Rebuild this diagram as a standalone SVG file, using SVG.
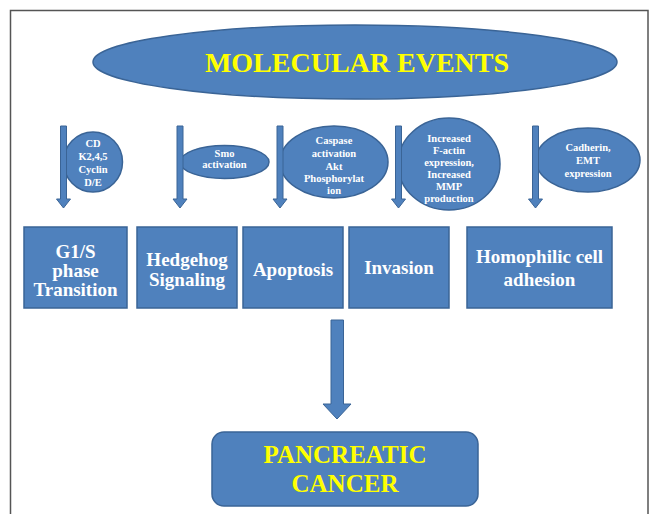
<svg xmlns="http://www.w3.org/2000/svg" width="657" height="514" viewBox="0 0 657 514">
<style>
.shape{fill:#4F81BD;stroke:#3A6496;stroke-width:1.5}
.arr{fill:#4F81BD;stroke:#3A6496;stroke-width:1}
.y{fill:#FFFF00;font-family:"Liberation Serif","Times New Roman",serif;font-weight:bold;text-anchor:middle}
.w{fill:#FFFFFF;font-family:"Liberation Serif","Times New Roman",serif;font-weight:bold;text-anchor:middle}
.s{font-size:10.5px}
.r{font-size:19px}
</style>
<rect width="657" height="514" fill="#FFFFFF"/>
<path d="M10.5,514 V10.5 H648 V514" fill="none" stroke="#555" stroke-width="1.5"/>

<g id="molecular-events">
<ellipse class="shape" cx="355" cy="62" rx="262" ry="37"/>
<text class="y" x="357" y="72" font-size="28">MOLECULAR EVENTS</text>
</g>

<g id="e-cdk">
<ellipse class="shape" cx="93" cy="162" rx="29.5" ry="30"/>
<text class="w s" x="93" y="147">CD</text>
<text class="w s" x="93" y="160">K2,4,5</text>
<text class="w s" x="93" y="173">Cyclin</text>
<text class="w s" x="93" y="186">D/E</text>
</g>
<g id="e-smo">
<ellipse class="shape" cx="224.5" cy="162" rx="44.5" ry="16.5"/>
<text class="w s" x="224.5" y="157">Smo</text>
<text class="w s" x="224.5" y="168">activation</text>
</g>
<g id="e-caspase">
<ellipse class="shape" cx="334" cy="162" rx="54" ry="36"/>
<text class="w s" x="334" y="144">Caspase</text>
<text class="w s" x="334" y="157">activation</text>
<text class="w s" x="334" y="170">Akt</text>
<text class="w s" x="334" y="182">Phosphorylat</text>
<text class="w s" x="334" y="194">ion</text>
</g>
<g id="e-factin">
<ellipse class="shape" cx="449" cy="164" rx="51" ry="46"/>
<text class="w s" x="449" y="142">Increased</text>
<text class="w s" x="449" y="154">F-actin</text>
<text class="w s" x="449" y="166">expression,</text>
<text class="w s" x="449" y="178">Increased</text>
<text class="w s" x="449" y="190">MMP</text>
<text class="w s" x="449" y="202">production</text>
</g>
<g id="e-cadherin">
<ellipse class="shape" cx="588" cy="160" rx="52" ry="32"/>
<text class="w s" x="588" y="151">Cadherin,</text>
<text class="w s" x="588" y="164">EMT</text>
<text class="w s" x="588" y="177">expression</text>
</g>

<g id="connectors">
<path class="arr" d="M60.5,126 H66.5 V199 H70.5 L63.5,208 L56.5,199 H60.5 Z"/>
<path class="arr" d="M177,126 H183 V199 H187 L180,208 L173,199 H177 Z"/>
<path class="arr" d="M277,126 H283 V199 H287 L280,208 L273,199 H277 Z"/>
<path class="arr" d="M395.5,126 H401.5 V199 H405.5 L398.5,208 L391.5,199 H395.5 Z"/>
<path class="arr" d="M532.5,126 H538.5 V199 H542.5 L535.5,208 L528.5,199 H532.5 Z"/>
<path class="arr" d="M331,320 H343.5 V404 H351 L337,419 L323,404 H331 Z"/>
</g>

<g id="r-g1s">
<rect class="shape" x="24" y="227" width="103" height="81"/>
<text class="w r" x="75.5" y="258">G1/S</text>
<text class="w r" x="75.5" y="277">phase</text>
<text class="w r" x="75.5" y="296">Transition</text>
</g>
<g id="r-hedgehog">
<rect class="shape" x="137" y="227" width="100" height="81"/>
<text class="w r" x="187" y="266">Hedgehog</text>
<text class="w r" x="187" y="286">Signaling</text>
</g>
<g id="r-apoptosis">
<rect class="shape" x="243" y="227" width="100" height="81"/>
<text class="w r" x="293" y="276">Apoptosis</text>
</g>
<g id="r-invasion">
<rect class="shape" x="349" y="227" width="100" height="81"/>
<text class="w r" x="399" y="274">Invasion</text>
</g>
<g id="r-homophilic">
<rect class="shape" x="467" y="227" width="145" height="81"/>
<text class="w r" x="539.5" y="263">Homophilic cell</text>
<text class="w r" x="539.5" y="286">adhesion</text>
</g>

<g id="pancreatic-cancer">
<rect class="shape" x="212" y="432" width="266" height="74" rx="12"/>
<text class="y" x="345" y="463" font-size="25">PANCREATIC</text>
<text class="y" x="345" y="492" font-size="25">CANCER</text>
</g>
</svg>
